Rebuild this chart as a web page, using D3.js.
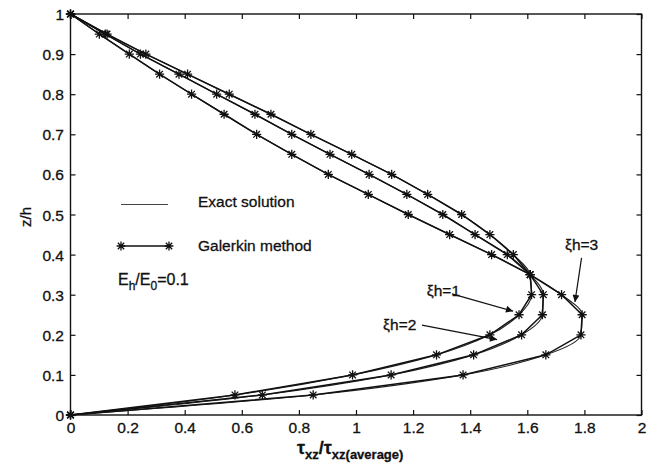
<!DOCTYPE html>
<html>
<head>
<meta charset="utf-8">
<script src="https://cdn.jsdelivr.net/npm/d3@7"></script>
<style>
  html, body { margin: 0; padding: 0; background: #fff; }
  svg { display: block; }
  text { font-family: "Liberation Sans", Arial, Helvetica, sans-serif; fill: #111; stroke: #111; stroke-width: 0.3; }
</style>
</head>
<body>
<svg id="chart" width="660" height="464"></svg>
<script>
// ---- data ----
const zLevels = [0, 0.05, 0.1, 0.15, 0.2, 0.25, 0.3, 0.35, 0.4, 0.45, 0.5,
                 0.55, 0.6, 0.65, 0.7, 0.75, 0.8, 0.85, 0.9, 0.95, 1];
// tau_xz / tau_xz(average) at each z/h, Galerkin method
const xi1 = [0, 0.576, 0.988, 1.282, 1.469, 1.571, 1.615, 1.61, 1.551, 1.469, 1.370,
             1.251, 1.125, 0.985, 0.842, 0.702, 0.556, 0.410, 0.264, 0.128, 0];
const xi2 = [0, 0.672, 1.123, 1.412, 1.580, 1.653, 1.656, 1.61, 1.530, 1.417, 1.304,
             1.178, 1.046, 0.909, 0.775, 0.646, 0.512, 0.380, 0.245, 0.122, 0];
const xi3 = [0, 0.850, 1.375, 1.665, 1.788, 1.792, 1.720, 1.61, 1.475, 1.328, 1.183,
             1.043, 0.903, 0.775, 0.652, 0.538, 0.424, 0.312, 0.206, 0.101, 0];
const seriesNames = ["ξh=1", "ξh=2", "ξh=3"];
const xTicks = [0, 0.2, 0.4, 0.6, 0.8, 1, 1.2, 1.4, 1.6, 1.8, 2];
const yTicks = [0, 0.1, 0.2, 0.3, 0.4, 0.5, 0.6, 0.7, 0.8, 0.9, 1];
const legendLabels = ["Exact solution", "Galerkin method"];
const ratioLabel = { base: "E", sub1: "h", mid: "/E", sub2: "0", tail: "=0.1" };
// annotation: text anchor (data units), arrow start/end (data units)
const annotations = [
  { label: seriesNames[0], tx: 1.248, tz: 0.297, ax0: 1.336, az0: 0.302, ax1: 1.55, az1: 0.259 },
  { label: seriesNames[1], tx: 1.095, tz: 0.212, ax0: 1.231, az0: 0.224, ax1: 1.494, az1: 0.188 },
  { label: seriesNames[2], tx: 1.732, tz: 0.411, ax0: 1.790, az0: 0.392, ax1: 1.767, az1: 0.282 }
];

// ---- layout ----
const svg = d3.select("#chart");
const m = { left: 70.5, right: 641.5, top: 14, bottom: 415 };
const x = d3.scaleLinear().domain([0, 2]).range([m.left, m.right]);
const y = d3.scaleLinear().domain([0, 1]).range([m.bottom, m.top]);

svg.append("rect").attr("width", 660).attr("height", 464).attr("fill", "#fff");

const defs = svg.append("defs");
defs.append("marker").attr("id", "arrow")
  .attr("viewBox", "0 0 10 10").attr("refX", 10).attr("refY", 5)
  .attr("markerWidth", 12).attr("markerHeight", 7).attr("markerUnits", "userSpaceOnUse")
  .attr("orient", "auto")
  .append("path").attr("d", "M0,0 L10,5 L0,10 z").attr("fill", "#111");

// axes with inward ticks on all four sides
const tickLen = 5;
const gB = svg.append("g").attr("transform", `translate(0,${m.bottom})`)
  .call(d3.axisBottom(x).tickValues(xTicks).tickSizeInner(-tickLen).tickSizeOuter(0)
    .tickPadding(7).tickFormat(d3.format("")));
const gT = svg.append("g").attr("transform", `translate(0,${m.top})`)
  .call(d3.axisTop(x).tickValues(xTicks).tickSizeInner(-tickLen).tickSizeOuter(0).tickFormat(""));
const gL = svg.append("g").attr("transform", `translate(${m.left},0)`)
  .call(d3.axisLeft(y).tickValues(yTicks).tickSizeInner(-tickLen).tickSizeOuter(0)
    .tickPadding(6.5).tickFormat(d3.format("")));
const gR = svg.append("g").attr("transform", `translate(${m.right},0)`)
  .call(d3.axisRight(y).tickValues(yTicks).tickSizeInner(-tickLen).tickSizeOuter(0).tickFormat(""));
[gB, gT, gL, gR].forEach(g => {
  g.select(".domain").remove();
  g.selectAll(".tick line").attr("stroke", "#111").attr("stroke-width", 1.2);
  g.selectAll(".tick text").attr("font-size", 15.5).attr("fill", "#111")
    .style("font-family", "'Liberation Sans', Arial, sans-serif");
});
gL.selectAll(".tick text").attr("dy", "0.36em");
svg.append("rect").attr("x", m.left).attr("y", m.top)
  .attr("width", m.right - m.left).attr("height", m.bottom - m.top)
  .attr("fill", "none").attr("stroke", "#111").attr("stroke-width", 1.4);

// lines
const all = [xi1, xi2, xi3];
const exactLine = d3.line().x(d => x(d[0])).y(d => y(d[1])).curve(d3.curveMonotoneY);
const galLine = d3.line().x(d => x(d[0])).y(d => y(d[1]));
const starPath = r => {
  const a = r * 0.72;
  return `M${-r},0L${r},0M0,${-r}L0,${r}M${-a},${-a}L${a},${a}M${-a},${a}L${a},${-a}`;
};
all.forEach(arr => {
  const pts = arr.map((v, i) => [v, zLevels[i]]);
  svg.append("path").attr("d", exactLine(pts)).attr("fill", "none")
    .attr("stroke", "#222").attr("stroke-width", 1.1);
  svg.append("path").attr("d", galLine(pts)).attr("fill", "none")
    .attr("stroke", "#111").attr("stroke-width", 1.5);
  svg.append("g").selectAll("path").data(pts).join("path")
    .attr("transform", d => `translate(${x(d[0])},${y(d[1])})`)
    .attr("d", starPath(4.6)).attr("stroke", "#111").attr("stroke-width", 1.3).attr("fill", "none");
});

// legend
const lg = svg.append("g");
lg.append("line").attr("x1", 121).attr("x2", 168).attr("y1", 204.5).attr("y2", 204.5)
  .attr("stroke", "#444").attr("stroke-width", 1);
lg.append("text").attr("x", 198).attr("y", 206.5).attr("font-size", 15.5).text(legendLabels[0]);
lg.append("line").attr("x1", 121).attr("x2", 169).attr("y1", 246).attr("y2", 246)
  .attr("stroke", "#111").attr("stroke-width", 1.3);
[121, 169].forEach(px => lg.append("path").attr("transform", `translate(${px},246)`)
  .attr("d", starPath(4.4)).attr("stroke", "#111").attr("stroke-width", 1.3));
lg.append("text").attr("x", 198).attr("y", 251).attr("font-size", 15.5).text(legendLabels[1]);
const rt = lg.append("text").attr("x", 118).attr("y", 285).attr("font-size", 16);
rt.append("tspan").text(ratioLabel.base);
rt.append("tspan").attr("font-size", 12).attr("dy", 5).text(ratioLabel.sub1);
rt.append("tspan").attr("dy", -5).text(ratioLabel.mid);
rt.append("tspan").attr("font-size", 12).attr("dy", 5).text(ratioLabel.sub2);
rt.append("tspan").attr("dy", -5).text(ratioLabel.tail);

// annotations
annotations.forEach(a => {
  svg.append("text").attr("x", x(a.tx)).attr("y", y(a.tz)).attr("font-size", 15.5).text(a.label);
  svg.append("line").attr("x1", x(a.ax0)).attr("y1", y(a.az0))
    .attr("x2", x(a.ax1)).attr("y2", y(a.az1))
    .attr("stroke", "#111").attr("stroke-width", 1.2).attr("marker-end", "url(#arrow)");
});

// axis titles
const xt = svg.append("text").attr("x", 297).attr("y", 454).attr("font-size", 18).attr("font-weight", "bold");
xt.append("tspan").text("τ");
xt.append("tspan").attr("font-size", 13).attr("dy", 5).text("xz");
xt.append("tspan").attr("dy", -5).text("/τ");
xt.append("tspan").attr("font-size", 13).attr("dy", 5).text("xz(average)");
svg.append("text").attr("transform", "translate(30.5,217) rotate(-90)")
  .attr("text-anchor", "middle").attr("font-size", 15).text("z/h");
</script>
</body>
</html>
